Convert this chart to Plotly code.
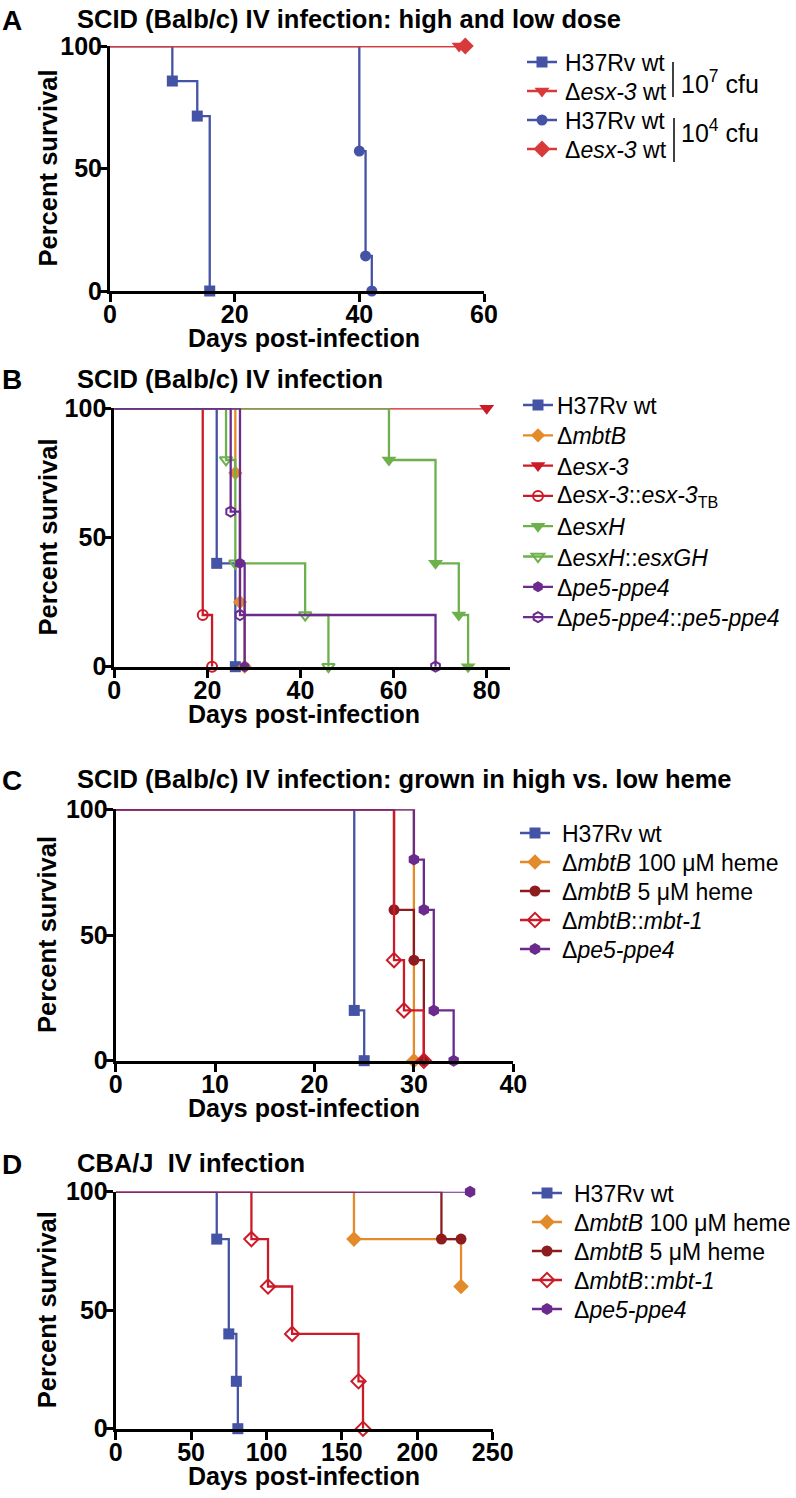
import plotly.graph_objects as go

FONT = "Liberation Sans, Arial, Helvetica, sans-serif"
W, H = 796, 1498

# ---------------- Colours ----------------
BLUE = "#4453a5"
RED_A = "#d8393b"
RED = "#cc1b28"
ORANGE = "#e38a2a"
GREEN = "#6cb14b"
PURPLE = "#6a2a8e"
DARKRED = "#8e1c1e"

# ---------------- Panel A data ----------------
A_h37rv_hi_days = [0, 10, 14, 16]
A_h37rv_hi_surv = [100, 85.7, 71.4, 0]
A_esx3_hi_days = [0, 56]
A_esx3_hi_surv = [100, 100]
A_h37rv_lo_days = [0, 40, 41, 42]
A_h37rv_lo_surv = [100, 57.1, 14.3, 0]
A_esx3_lo_days = [0, 57]
A_esx3_lo_surv = [100, 100]
A_xticks = [0, 20, 40, 60]
A_labels = ["H37Rv wt", "Δ<i>esx-3</i> wt", "H37Rv wt", "Δ<i>esx-3</i> wt"]

# ---------------- Panel B data ----------------
B_h37rv_days = [0, 22, 26]
B_h37rv_surv = [100, 40, 0]
B_mbtB_days = [0, 26, 27, 28]
B_mbtB_surv = [100, 75, 25, 0]
B_esx3_days = [0, 80]
B_esx3_surv = [100, 100]
B_esx3comp_days = [0, 19, 21]
B_esx3comp_surv = [100, 20, 0]
B_esxH_days = [0, 59, 69, 74, 76]
B_esxH_surv = [100, 80, 40, 20, 0]
B_esxHcomp_days = [0, 24, 26, 41, 46]
B_esxHcomp_surv = [100, 80, 40, 20, 0]
B_pe5_days = [0, 27, 28]
B_pe5_surv = [100, 40, 0]
B_pe5comp_days = [0, 25, 27, 69]
B_pe5comp_surv = [100, 60, 20, 0]
B_xticks = [0, 20, 40, 60, 80]
B_labels = ["H37Rv wt", "Δ<i>mbtB</i>", "Δ<i>esx-3</i>",
            "Δ<i>esx-3</i>::<i>esx-3</i><sub>TB</sub>", "Δ<i>esxH</i>",
            "Δ<i>esxH</i>::<i>esxGH</i>", "Δ<i>pe5-ppe4</i>",
            "Δ<i>pe5-ppe4</i>::<i>pe5-ppe4</i>"]

# ---------------- Panel C data ----------------
C_h37rv_days = [0, 24, 25]
C_h37rv_surv = [100, 20, 0]
C_mbtB100_days = [0, 30]
C_mbtB100_surv = [100, 0]
C_mbtB5_days = [0, 28, 30, 31]
C_mbtB5_surv = [100, 60, 40, 0]
C_mbtBcomp_days = [0, 28, 29, 31]
C_mbtBcomp_surv = [100, 40, 20, 0]
C_pe5_days = [0, 30, 31, 32, 34]
C_pe5_surv = [100, 80, 60, 20, 0]
C_xticks = [0, 10, 20, 30, 40]
CD_labels = ["H37Rv wt", "Δ<i>mbtB</i> 100 μM heme", "Δ<i>mbtB</i> 5 μM heme",
             "Δ<i>mbtB</i>::<i>mbt-1</i>", "Δ<i>pe5-ppe4</i>"]

# ---------------- Panel D data ----------------
D_h37rv_days = [0, 67, 75, 80, 81]
D_h37rv_surv = [100, 80, 40, 20, 0]
D_mbtB100_days = [0, 158, 229]
D_mbtB100_surv = [100, 80, 60]
D_mbtB5_days = [0, 216, 229]
D_mbtB5_surv = [100, 80, 80]
D_mbtBcomp_days = [0, 90, 101, 117, 161, 164]
D_mbtBcomp_surv = [100, 80, 60, 40, 20, 0]
D_pe5_days = [0, 235]
D_pe5_surv = [100, 100]
D_xticks = [0, 50, 100, 150, 200, 250]

Y_TICKS = [0, 50, 100]

# ---------------- Layout geometry (page pixels) ----------------
panels = {
    1: dict(x=(110, 484), y=(46, 291), xr=[0, 60], xt=A_xticks,
            title="SCID (Balb/c) IV infection: high and low dose", letter="A", ty=19),
    2: dict(x=(114.3, 510), y=(408.3, 666.7), xr=[0, 85], xt=B_xticks,
            title="SCID (Balb/c) IV infection", letter="B", ty=379),
    3: dict(x=(115.7, 513.3), y=(809.3, 1060.7), xr=[0, 40], xt=C_xticks,
            title="SCID (Balb/c) IV infection: grown in high vs. low heme", letter="C", ty=779),
    4: dict(x=(115.7, 492.7), y=(1191.7, 1428.7), xr=[0, 250], xt=D_xticks,
            title="CBA/J  IV infection", letter="D", ty=1163),
}
# legend blocks: symbol-left, first-row centre, legend font (sets row pitch), text-left, text size
legends = {
    "legend": dict(left=522, first=62, fs=20, tx=563, ts=23, labels=A_labels),
    "legend2": dict(left=518, first=405, fs=21, tx=555, ts=23, labels=B_labels),
    "legend3": dict(left=515, first=833, fs=20, tx=560, ts=23, labels=CD_labels),
    "legend4": dict(left=527, first=1193, fs=20, tx=572, ts=23, labels=CD_labels),
}

fig = go.Figure()


def px_x(v):
    return v / W


def px_y(v):
    return 1 - v / H


def add_series(panel, days, surv, color, symbol, size, legend):
    xa = "x" if panel == 1 else f"x{panel}"
    ya = "y" if panel == 1 else f"y{panel}"
    open_marker = symbol.endswith("-open")
    mk = dict(symbol=symbol, color=color, size=size,
              line=dict(color=color, width=2 if open_marker else 0))
    fig.add_trace(go.Scatter(x=days, y=surv, mode="lines",
                             line=dict(color=color, width=2.3, shape="hv"),
                             xaxis=xa, yaxis=ya, showlegend=False,
                             cliponaxis=False, hoverinfo="skip"))
    fig.add_trace(go.Scatter(x=days[1:], y=surv[1:], mode="markers", marker=mk,
                             xaxis=xa, yaxis=ya, showlegend=False,
                             cliponaxis=False, hoverinfo="skip"))
    fig.add_trace(go.Scatter(x=[None], y=[None], mode="lines+markers", name=" ",
                             line=dict(color=color, width=2.3), marker=mk,
                             xaxis=xa, yaxis=ya, legend=legend, showlegend=True))


# Panel A
add_series(1, A_h37rv_hi_days, A_h37rv_hi_surv, BLUE, "square", 11, "legend")
add_series(1, A_esx3_hi_days, A_esx3_hi_surv, RED_A, "triangle-down", 13, "legend")
add_series(1, A_h37rv_lo_days, A_h37rv_lo_surv, BLUE, "circle", 11, "legend")
add_series(1, A_esx3_lo_days, A_esx3_lo_surv, RED_A, "diamond", 13, "legend")

# Panel B
add_series(2, B_h37rv_days, B_h37rv_surv, BLUE, "square", 11, "legend2")
add_series(2, B_mbtB_days, B_mbtB_surv, ORANGE, "diamond", 11, "legend2")
add_series(2, B_esx3_days, B_esx3_surv, RED, "triangle-down", 13, "legend2")
add_series(2, B_esx3comp_days, B_esx3comp_surv, RED, "circle-open", 10, "legend2")
add_series(2, B_esxH_days, B_esxH_surv, GREEN, "triangle-down", 13, "legend2")
add_series(2, B_esxHcomp_days, B_esxHcomp_surv, GREEN, "triangle-down-open", 11, "legend2")
add_series(2, B_pe5_days, B_pe5_surv, PURPLE, "hexagon", 11, "legend2")
add_series(2, B_pe5comp_days, B_pe5comp_surv, PURPLE, "hexagon-open", 10, "legend2")

# Panel C
add_series(3, C_h37rv_days, C_h37rv_surv, BLUE, "square", 11, "legend3")
add_series(3, C_mbtB100_days, C_mbtB100_surv, ORANGE, "diamond", 12, "legend3")
add_series(3, C_mbtB5_days, C_mbtB5_surv, DARKRED, "circle", 11, "legend3")
add_series(3, C_mbtBcomp_days, C_mbtBcomp_surv, RED, "diamond-open", 11, "legend3")
add_series(3, C_pe5_days, C_pe5_surv, PURPLE, "hexagon", 12, "legend3")

# Panel D
add_series(4, D_h37rv_days, D_h37rv_surv, BLUE, "square", 11, "legend4")
add_series(4, D_mbtB100_days, D_mbtB100_surv, ORANGE, "diamond", 12, "legend4")
add_series(4, D_mbtB5_days, D_mbtB5_surv, DARKRED, "circle", 11, "legend4")
add_series(4, D_mbtBcomp_days, D_mbtBcomp_surv, RED, "diamond-open", 11, "legend4")
add_series(4, D_pe5_days, D_pe5_surv, PURPLE, "hexagon", 12, "legend4")

TICKFONT = dict(family=FONT, size=25, color="black", weight="bold")
annotations = []
layout = {}
for i, p in panels.items():
    xk = "xaxis" if i == 1 else f"xaxis{i}"
    yk = "yaxis" if i == 1 else f"yaxis{i}"
    xa = "x" if i == 1 else f"x{i}"
    ya = "y" if i == 1 else f"y{i}"
    common = dict(showline=True, linecolor="black", linewidth=3, ticks="outside",
                  ticklen=8, tickwidth=3, tickcolor="black", showgrid=False,
                  zeroline=False, tickfont=TICKFONT, fixedrange=True, automargin=False)
    layout[xk] = dict(domain=[px_x(p["x"][0]), px_x(p["x"][1])], range=p["xr"],
                      tickvals=p["xt"], anchor=ya, ticklabelstandoff=-9, **common)
    layout[yk] = dict(domain=[px_y(p["y"][1]), px_y(p["y"][0])], range=[0, 100],
                      tickvals=Y_TICKS, anchor=xa, ticklabelstandoff=-8, **common)
    annotations.append(dict(text=f"<b>{p['letter']}</b>", x=px_x(0), y=px_y(p["ty"] + 1),
                            xref="paper", yref="paper", xanchor="left", yanchor="middle",
                            showarrow=False, font=dict(family=FONT, size=28, color="black")))
    annotations.append(dict(text=f"<b>{p['title']}</b>", x=px_x(75), y=px_y(p["ty"]),
                            xref="paper", yref="paper", xanchor="left", yanchor="middle",
                            showarrow=False, font=dict(family=FONT, size=25.5, color="black")))
    annotations.append(dict(text="<b>Percent survival</b>", x=px_x(47),
                            y=px_y((p["y"][0] + p["y"][1]) / 2), textangle=-90,
                            xref="paper", yref="paper", xanchor="center", yanchor="middle",
                            showarrow=False, font=dict(family=FONT, size=25.5, color="black")))
    annotations.append(dict(text="<b>Days post-infection</b>", x=px_x(304),
                            y=px_y(p["y"][1] + 47),
                            xref="paper", yref="paper", xanchor="center", yanchor="middle",
                            showarrow=False, font=dict(family=FONT, size=25, color="black")))

# legend blocks: plotly legends draw the symbols, annotations carry the labels
legend_layout = {}
for key, lg in legends.items():
    pitch = lg["fs"] * 1.3 + 3
    top = lg["first"] - 5 - pitch / 2
    legend_layout[key] = dict(x=px_x(lg["left"]), y=px_y(top), xanchor="left", yanchor="top",
                              font=dict(family=FONT, size=lg["fs"], color="black"),
                              bgcolor="rgba(0,0,0,0)", borderwidth=0, tracegroupgap=0,
                              itemclick=False, itemdoubleclick=False)
    for k, lab in enumerate(lg["labels"]):
        annotations.append(dict(text=lab, x=px_x(lg["tx"]), y=px_y(lg["first"] + k * pitch + 1),
                                xref="paper", yref="paper", xanchor="left", yanchor="middle",
                                showarrow=False,
                                font=dict(family=FONT, size=lg["ts"], color="black")))

# cfu brackets in panel A
annotations.append(dict(text="10<sup>7</sup> cfu", x=px_x(679), y=px_y(82), xref="paper", yref="paper",
                        xanchor="left", yanchor="middle", showarrow=False,
                        font=dict(family=FONT, size=25, color="black")))
annotations.append(dict(text="10<sup>4</sup> cfu", x=px_x(679), y=px_y(131), xref="paper", yref="paper",
                        xanchor="left", yanchor="middle", showarrow=False,
                        font=dict(family=FONT, size=25, color="black")))
shapes = [
    dict(type="line", xref="paper", yref="paper", x0=px_x(673), x1=px_x(673),
         y0=px_y(62), y1=px_y(97), line=dict(color="black", width=1.5)),
    dict(type="line", xref="paper", yref="paper", x0=px_x(674), x1=px_x(674),
         y0=px_y(118), y1=px_y(162), line=dict(color="black", width=1.5)),
]

fig.update_layout(
    template="none",
    width=W, height=H,
    margin=dict(l=0, r=0, t=0, b=0, pad=0, autoexpand=False),
    paper_bgcolor="white", plot_bgcolor="white",
    font=dict(family=FONT, color="black"),
    annotations=annotations, shapes=shapes,
    hovermode=False,
    **legend_layout,
    **layout,
)

fig.write_html("out.html",
               config={"displayModeBar": False, "staticPlot": True},
               post_script="document.body.style.margin='0px';document.body.style.padding='0px';")
